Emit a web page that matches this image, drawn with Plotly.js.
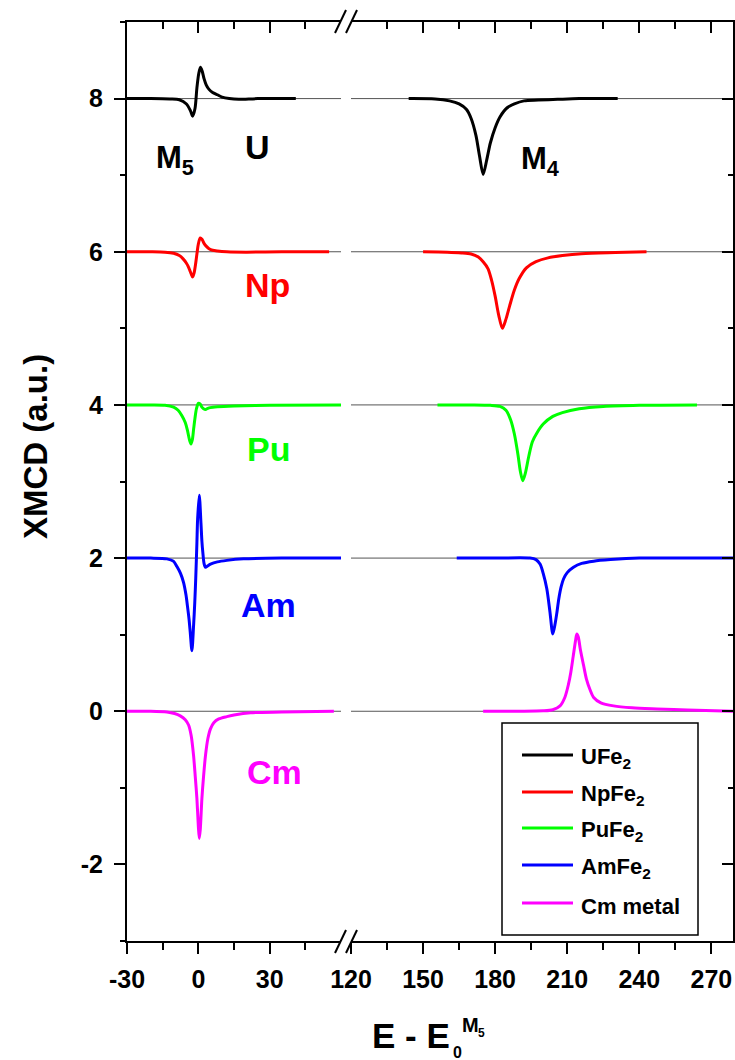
<!DOCTYPE html>
<html>
<head>
<meta charset="utf-8">
<script src="https://cdn.plot.ly/plotly-3.0.1.min.js"></script>
<style>html,body{margin:0;padding:0;background:#fff}</style>
</head>
<body>
<div id="chart" style="width:735px;height:1060px"></div>
<script>
// XMCD spectra at the actinide M5 / M4 edges, offset vertically by 2 units each.
// Energy axis is broken: M5 window on x, M4 window on x2.

// ---- UFe2 ----
const uM5x = [-30,-20,-12,-8,-5,-3.3,-2.4,-1.4,-0.6,0.2,0.9,1.6,2.4,3.3,4.5,6,8,10,13,17,25,41];
const uM5y = [8,8,7.995,7.985,7.93,7.84,7.77,7.87,8.14,8.33,8.41,8.36,8.26,8.18,8.12,8.08,8.05,8.02,8.0,7.99,8.0,8.0];
const uM4x = [144,155,161,165,168,170,172,173.5,175,176.5,178,180,182,185,188,192,198,206,215,231];
const uM4y = [8,7.995,7.97,7.93,7.86,7.74,7.52,7.25,7.01,7.2,7.42,7.62,7.76,7.88,7.93,7.97,7.98,7.99,8.0,8.0];

// ---- NpFe2 ----
const npM5x = [-30,-20,-14,-10.4,-8,-6.5,-5,-4,-3,-2.4,-1.8,-1.2,-0.6,0,0.8,1.6,2.4,3.4,4.5,6,8,12,20,35,55];
const npM5y = [6,6,5.995,5.98,5.95,5.91,5.85,5.79,5.71,5.67,5.72,5.83,5.97,6.1,6.18,6.16,6.11,6.07,6.04,6.02,6.01,6.0,5.995,6,6];
const npM4x = [150,160,166,170,173,175,177,178.5,180,181.5,183,184.5,186,188,190,193,197,202,208,216,230,243];
const npM4y = [6,5.995,5.985,5.97,5.93,5.87,5.78,5.63,5.42,5.17,5.0,5.12,5.29,5.5,5.65,5.79,5.87,5.92,5.95,5.975,5.99,6];

// ---- PuFe2 ----
const puM5x = [-30,-20,-14,-10.4,-8.5,-6.9,-5.5,-4.6,-3.6,-3.1,-2.5,-2,-1.4,-0.8,0,0.8,1.5,2.2,3,4,5,8,15,30,60];
const puM5y = [4,4,3.995,3.97,3.93,3.86,3.77,3.67,3.53,3.49,3.55,3.68,3.83,3.95,4.02,4.01,3.97,3.95,3.94,3.955,3.965,3.975,3.985,3.995,4.0];
const puM4x = [156,170,178,182,184.5,186.5,188,189.5,190.5,191.5,192.5,194,195.5,197.5,200,204,208,215,225,240,264];
const puM4y = [4,4,3.995,3.98,3.93,3.80,3.62,3.35,3.13,3.01,3.10,3.33,3.52,3.64,3.75,3.85,3.9,3.95,3.98,3.995,4];

// ---- AmFe2 ----
const amM5x = [-30,-20,-13.2,-10.5,-9,-7.5,-6.2,-5.2,-4.6,-3.9,-3.4,-2.7,-2.0,-1.5,-1.1,-0.6,-0.3,0.4,1.1,1.5,1.9,2.4,3.0,4,5.1,8,12,19,35,60];
const amM5y = [2,2,1.99,1.96,1.89,1.8,1.68,1.52,1.38,1.2,1.03,0.79,1.12,1.42,1.73,2.2,2.51,2.82,2.46,2.22,2.07,1.93,1.88,1.9,1.92,1.95,1.97,1.99,2.0,2.0];
const amM4x = [164,180,194.5,197,198.75,200,201.5,202.8,204,205,205.7,206.5,207.5,208.5,210,212.6,216,221,228,240,260,279];
const amM4y = [2,2,2,1.98,1.92,1.8,1.6,1.3,1.01,1.15,1.29,1.47,1.63,1.73,1.81,1.88,1.93,1.96,1.98,2.0,2.0,2.0];

// ---- Cm metal ----
const cmM5x = [-30,-20,-13.2,-10,-7.6,-5.5,-4.1,-3,-2,-1.3,-0.6,0,0.4,0.8,1.5,2.2,3,4,5.1,6.5,8.6,12,15,22,35,57];
const cmM5y = [0,0,-0.01,-0.03,-0.06,-0.11,-0.18,-0.32,-0.58,-0.85,-1.14,-1.5,-1.66,-1.55,-1.14,-0.85,-0.58,-0.36,-0.23,-0.15,-0.10,-0.07,-0.05,-0.02,-0.01,0];
const cmM4x = [175,190,200,204,207,209,210.5,211.5,212.5,213.5,214,214.6,215.5,216.8,218,219.5,221,224,229.3,237,247.4,260,279];
const cmM4y = [0,0,0.005,0.02,0.07,0.18,0.35,0.51,0.72,0.93,1.01,0.97,0.8,0.6,0.42,0.28,0.18,0.11,0.07,0.045,0.03,0.015,0.0];

const seriesNames  = ['UFe<sub>2</sub>', 'NpFe<sub>2</sub>', 'PuFe<sub>2</sub>', 'AmFe<sub>2</sub>', 'Cm metal'];
const seriesColors = ['#000000', '#ff0000', '#00ff00', '#0000ff', '#ff00ff'];
const m5X = [uM5x, npM5x, puM5x, amM5x, cmM5x];
const m5Y = [uM5y, npM5y, puM5y, amM5y, cmM5y];
const m4X = [uM4x, npM4x, puM4x, amM4x, cmM4x];
const m4Y = [uM4y, npM4y, puM4y, amM4y, cmM4y];

// element labels next to each M5 curve
const elemLabels = ['U', 'Np', 'Pu', 'Am', 'Cm'];
const elemLabelX = [24.9, 29.1, 29.6, 29.6, 32.1];
const elemLabelY = [7.37, 5.56, 3.43, 1.39, -0.79];

const baselines = [0, 2, 4, 6, 8];
const yTickVals = [-2, 0, 2, 4, 6, 8];
const yTickText = ['-2', '0', '2', '4', '6', '8'];
const xLeftTicks = [-30, 0, 30];
const xLeftText = ['-30', '0', '30'];
const xLeftMinor = [-15, 15, 45];
const xRightTicks = [120, 150, 180, 210, 240, 270];
const xRightText = ['120', '150', '180', '210', '240', '270'];
const xRightMinor = [135, 165, 195, 225, 255];

// plot-area geometry in pixels
const W = 735, H = 1060, PL = 127, PR = 733, PT = 22, PB = 941;
const fx = p => (p - PL) / (PR - PL);
const fy = p => (PB - p) / (PB - PT);

const FONT = 'Liberation Sans, Arial, Helvetica, sans-serif';
const LW = 3;

const traces = [];
for (let i = 0; i < seriesNames.length; i++) {
  traces.push({x: m5X[i], y: m5Y[i], xaxis: 'x', yaxis: 'y', type: 'scatter', mode: 'lines',
    line: {color: seriesColors[i], width: LW, shape: 'spline', smoothing: 0.8},
    name: seriesNames[i], showlegend: false, hoverinfo: 'skip'});
  traces.push({x: m4X[i], y: m4Y[i], xaxis: 'x2', yaxis: 'y', type: 'scatter', mode: 'lines',
    line: {color: seriesColors[i], width: LW, shape: 'spline', smoothing: 0.8},
    name: seriesNames[i], showlegend: false, hoverinfo: 'skip'});
}
// empty traces so the mirrored frame axes get drawn
traces.push({x: [], y: [], xaxis: 'x3', yaxis: 'y', showlegend: false});
traces.push({x: [], y: [], xaxis: 'x4', yaxis: 'y', showlegend: false});
traces.push({x: [], y: [], xaxis: 'x2', yaxis: 'y2', showlegend: false});

const dLeft = [0, fx(341)];
const dRight = [fx(351), 1];
const tickFont = {family: FONT, size: 25, color: '#000', weight: 'bold'};

const baseAxis = {
  showgrid: false, zeroline: false, showline: true, linecolor: '#000', linewidth: 2,
  tickcolor: '#000', tickwidth: 2, tickfont: tickFont, fixedrange: true
};

const layout = {
  width: W, height: H, autosize: false,
  margin: {l: PL, r: W - PR, t: PT, b: H - PB},
  paper_bgcolor: '#fff', plot_bgcolor: '#fff',
  showlegend: false,
  xaxis: Object.assign({}, baseAxis, {domain: dLeft, range: [-30, 60], anchor: 'y',
    tickmode: 'array', tickvals: xLeftTicks, ticktext: xLeftText, ticks: 'outside', ticklen: 11, ticklabelstandoff: 4,
    minor: {tickmode: 'array', tickvals: xLeftMinor, ticks: 'outside', ticklen: 7, tickwidth: 2, tickcolor: '#000'}}),
  xaxis2: Object.assign({}, baseAxis, {domain: dRight, range: [120, 279], anchor: 'y',
    tickmode: 'array', tickvals: xRightTicks, ticktext: xRightText, ticks: 'outside', ticklen: 11, ticklabelstandoff: 4,
    minor: {tickmode: 'array', tickvals: xRightMinor, ticks: 'outside', ticklen: 7, tickwidth: 2, tickcolor: '#000'}}),
  xaxis3: Object.assign({}, baseAxis, {overlaying: 'x', side: 'top', range: [-30, 60], anchor: 'y',
    tickmode: 'array', tickvals: xLeftTicks, ticks: 'inside', ticklen: 11, showticklabels: false,
    minor: {tickmode: 'array', tickvals: xLeftMinor, ticks: 'inside', ticklen: 7, tickwidth: 2, tickcolor: '#000'}}),
  xaxis4: Object.assign({}, baseAxis, {overlaying: 'x2', side: 'top', range: [120, 279], anchor: 'y',
    tickmode: 'array', tickvals: xRightTicks, ticks: 'inside', ticklen: 11, showticklabels: false,
    minor: {tickmode: 'array', tickvals: xRightMinor, ticks: 'inside', ticklen: 7, tickwidth: 2, tickcolor: '#000'}}),
  yaxis: Object.assign({}, baseAxis, {range: [-3, 9], anchor: 'x',
    tickmode: 'array', tickvals: yTickVals, ticktext: yTickText, ticks: 'outside', ticklen: 11, ticklabelstandoff: 6,
    minor: {dtick: 1, ticks: 'outside', ticklen: 5, tickwidth: 2, tickcolor: '#000'}}),
  yaxis2: Object.assign({}, baseAxis, {overlaying: 'y', side: 'right', anchor: 'x2', range: [-3, 9],
    tickmode: 'array', tickvals: yTickVals, ticks: 'inside', ticklen: 11, showticklabels: false,
    minor: {dtick: 1, ticks: 'inside', ticklen: 5, tickwidth: 2, tickcolor: '#000'}}),
  shapes: [],
  annotations: []
};

// horizontal reference lines at each offset, one per axis segment
baselines.forEach(v => {
  ['x domain', 'x2 domain'].forEach(xr => {
    layout.shapes.push({type: 'line', xref: xr, yref: 'y', x0: 0, x1: 1, y0: v, y1: v,
      layer: 'below', line: {color: '#555', width: 1}});
  });
});

// axis-break marks (//) on the top and bottom frame
[[10, 33], [930, 953]].forEach(([yTop, yBot]) => {
  [[335, 346], [346, 357]].forEach(([xa, xb]) => {
    layout.shapes.push({type: 'line', xref: 'paper', yref: 'paper',
      x0: fx(xa), y0: fy(yBot), x1: fx(xb), y1: fy(yTop), line: {color: '#000', width: 2}});
  });
});

// element labels
elemLabels.forEach((t, i) => {
  layout.annotations.push({text: t, x: elemLabelX[i], y: elemLabelY[i], xref: 'x', yref: 'y',
    showarrow: false, xanchor: 'center', yanchor: 'middle',
    font: {family: FONT, size: 34, color: seriesColors[i], weight: 'bold'}});
});
// edge labels
layout.annotations.push({text: 'M<sub>5</sub>', x: fx(154), y: fy(160), xref: 'paper', yref: 'paper',
  showarrow: false, xanchor: 'left', yanchor: 'middle', font: {family: FONT, size: 31, color: '#000', weight: 'bold'}});
layout.annotations.push({text: 'M<sub>4</sub>', x: fx(519), y: fy(161), xref: 'paper', yref: 'paper',
  showarrow: false, xanchor: 'left', yanchor: 'middle', font: {family: FONT, size: 31, color: '#000', weight: 'bold'}});

// axis titles
layout.annotations.push({text: 'XMCD (a.u.)', textangle: -90, x: fx(35), y: fy(447), xref: 'paper', yref: 'paper',
  showarrow: false, xanchor: 'center', yanchor: 'middle', font: {family: FONT, size: 33, color: '#000', weight: 'bold'}});
layout.annotations.push({text: 'E - E', x: fx(452), y: fy(1035), xref: 'paper', yref: 'paper',
  showarrow: false, xanchor: 'right', yanchor: 'middle', font: {family: FONT, size: 35, color: '#000', weight: 'bold'}});
layout.annotations.push({text: '0', x: fx(451), y: fy(1052), xref: 'paper', yref: 'paper',
  showarrow: false, xanchor: 'left', yanchor: 'middle', font: {family: FONT, size: 16, color: '#000', weight: 'bold'}});
layout.annotations.push({text: 'M', x: fx(460), y: fy(1025), xref: 'paper', yref: 'paper',
  showarrow: false, xanchor: 'left', yanchor: 'middle', font: {family: FONT, size: 20, color: '#000', weight: 'bold'}});
layout.annotations.push({text: '5', x: fx(476), y: fy(1033), xref: 'paper', yref: 'paper',
  showarrow: false, xanchor: 'left', yanchor: 'middle', font: {family: FONT, size: 12, color: '#000', weight: 'bold'}});

// legend box with line samples
const legY = [755, 792, 828, 865, 903];
layout.shapes.push({type: 'rect', xref: 'paper', yref: 'paper', x0: fx(502), x1: fx(698), y0: fy(935), y1: fy(723),
  fillcolor: '#fff', line: {color: '#000', width: 1.5}, layer: 'above'});
seriesNames.forEach((n, i) => {
  layout.shapes.push({type: 'line', xref: 'paper', yref: 'paper', x0: fx(522), x1: fx(573), y0: fy(legY[i]), y1: fy(legY[i]),
    line: {color: seriesColors[i], width: 3}, layer: 'above'});
  layout.annotations.push({text: n, x: fx(579), y: fy(legY[i] + 3), xref: 'paper', yref: 'paper',
    showarrow: false, xanchor: 'left', yanchor: 'middle', font: {family: FONT, size: 22, color: '#000', weight: 'bold'}});
});

Plotly.newPlot('chart', traces, layout, {staticPlot: true, displayModeBar: false});
</script>
</body>
</html>
